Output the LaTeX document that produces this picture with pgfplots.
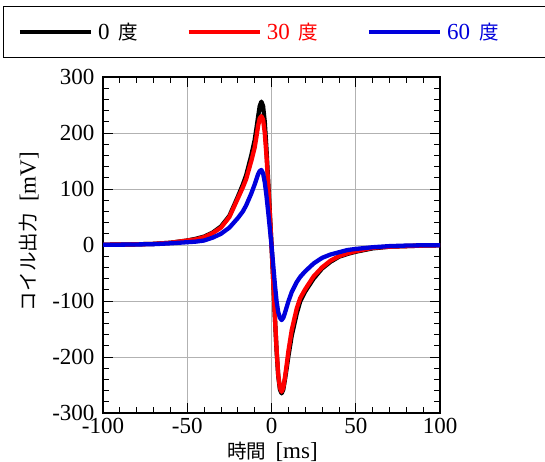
\documentclass[border=0pt]{standalone}
\usepackage{pgfplots}
\pgfplotsset{compat=1.18}
\usepackage{fontspec}
\setmainfont{Liberation Serif}
\newfontfamily\jp{Noto Sans CJK JP}[Scale=0.85]
\definecolor{myblue}{RGB}{0,0,220}
\definecolor{myred}{RGB}{255,0,0}
\newcommand{\fs}{\fontsize{23}{27}\selectfont}
\begin{document}
\begin{tikzpicture}[x=1pt,y=1pt]
\useasboundingbox (0,0) rectangle (545,461);
\begin{axis}[
  at={(103pt,48pt)}, anchor=south west,
  scale only axis, width=337pt, height=336pt,
  xmin=-100, xmax=100, ymin=-300, ymax=300,
  xtick={-100,-50,0,50,100}, ytick={-300,-200,...,300},
  minor x tick num=4, minor y tick num=4,
  major tick length=10pt, minor tick length=6pt,
  every tick/.style={black, line width=0.8pt},
  grid=major, major grid style={gray!60, line width=0.8pt},
  axis line style={line width=1.2pt},
  tick label style={font=\fs},
  /pgf/number format/assume math mode=true,
  /pgf/number format/.cd, 1000 sep={}, /pgfplots/.cd,
  xticklabel style={yshift=-2pt},
  yticklabel style={xshift=-5pt},
  xlabel={{\jp 時間}\hspace{0.4em}[ms]},
  ylabel={{\jp コイル出力}\hspace{0.5em}[mV]},
  label style={font=\fs},
  xlabel style={at={(axis description cs:0.503,-0.116)}, anchor=center},
  ylabel style={at={(axis description cs:-0.22,0.54)}, anchor=center},
  legend columns=3,
  legend image code/.code={\draw[#1, line width=4.5pt, line cap=butt] (0pt,0pt) -- (71pt,0pt);},
  legend style={at={(-0.2967,1.1339)}, anchor=west, draw=black, line width=1pt,
    inner xsep=14pt, inner ysep=15pt, font=\fs,
    /tikz/every odd column/.append style={column sep=3pt},
    /tikz/every even column/.append style={column sep=46pt}},
  every axis plot/.append style={line width=4.3pt, line join=round, line cap=round},
]
\addplot[black] coordinates {(-100,0.5) (-90,0.8) (-80,1.2) (-70,2) (-60,4) (-55,6) (-50,8) (-45,11) (-40,15) (-35,22) (-30,33) (-25,52) (-20,86) (-17,108) (-15,125) (-12,160) (-10,187) (-9,207) (-8,228) (-7,248) (-6,256) (-5,248) (-4,220) (-3,172) (-2,116) (-1,58) (0,0) (1,-62) (2,-128) (3,-188) (4,-234) (5,-258) (6,-265) (7,-258) (8,-240) (9,-220) (10,-199) (12,-162) (15,-122) (17,-101) (20,-83) (25,-60) (30,-42) (35,-30) (40,-21) (45,-16) (50,-12) (60,-6) (70,-3) (80,-2) (90,-1) (100,-0.5)};
\addlegendentry{0\hspace{0.4em}{\jp 度}}
\addplot[myred] coordinates {(-100,0.5) (-90,0.8) (-80,1.2) (-70,2) (-60,4) (-55,6) (-50,8) (-45,10) (-40,14) (-35,21) (-30,31) (-25,50) (-20,83) (-17,103) (-15,118) (-12,150) (-10,174) (-9,192) (-8,212) (-7,226) (-6,230) (-5,224) (-4,200) (-3,160) (-2,110) (-1,55) (0,0) (1,-62) (2,-128) (3,-186) (4,-232) (5,-255) (6,-262) (7,-255) (8,-236) (9,-214) (10,-190) (12,-152) (15,-113) (17,-95) (20,-79) (25,-56) (30,-40) (35,-28) (40,-20) (45,-15) (50,-11) (60,-5) (70,-3) (80,-2) (90,-1) (100,-0.5)};
\addlegendentry{\color{myred}30\hspace{0.4em}{\jp 度}}
\addplot[myblue] coordinates {(-100,0.3) (-90,0.6) (-80,1) (-70,1.5) (-60,3) (-50,5) (-45,6) (-40,8) (-35,13) (-30,20) (-25,31) (-20,48) (-17,60) (-15,71) (-12,92) (-10,108) (-9,117) (-8,126) (-7,132) (-6,134) (-5,128) (-4,112) (-3,88) (-2,60) (-1,30) (0,0) (1,-35) (2,-70) (3,-100) (4,-120) (5,-130) (6,-134) (7,-130) (8,-121) (9,-111) (10,-101) (12,-84) (15,-66) (17,-57) (20,-47) (25,-33) (30,-23) (35,-17) (40,-13) (45,-9) (50,-7) (60,-4) (70,-2) (80,-1) (90,-0.5) (100,-0.3)};
\addlegendentry{\color{myblue}60\hspace{0.4em}{\jp 度}\hspace*{32pt}}
\end{axis}
\end{tikzpicture}
\end{document}
